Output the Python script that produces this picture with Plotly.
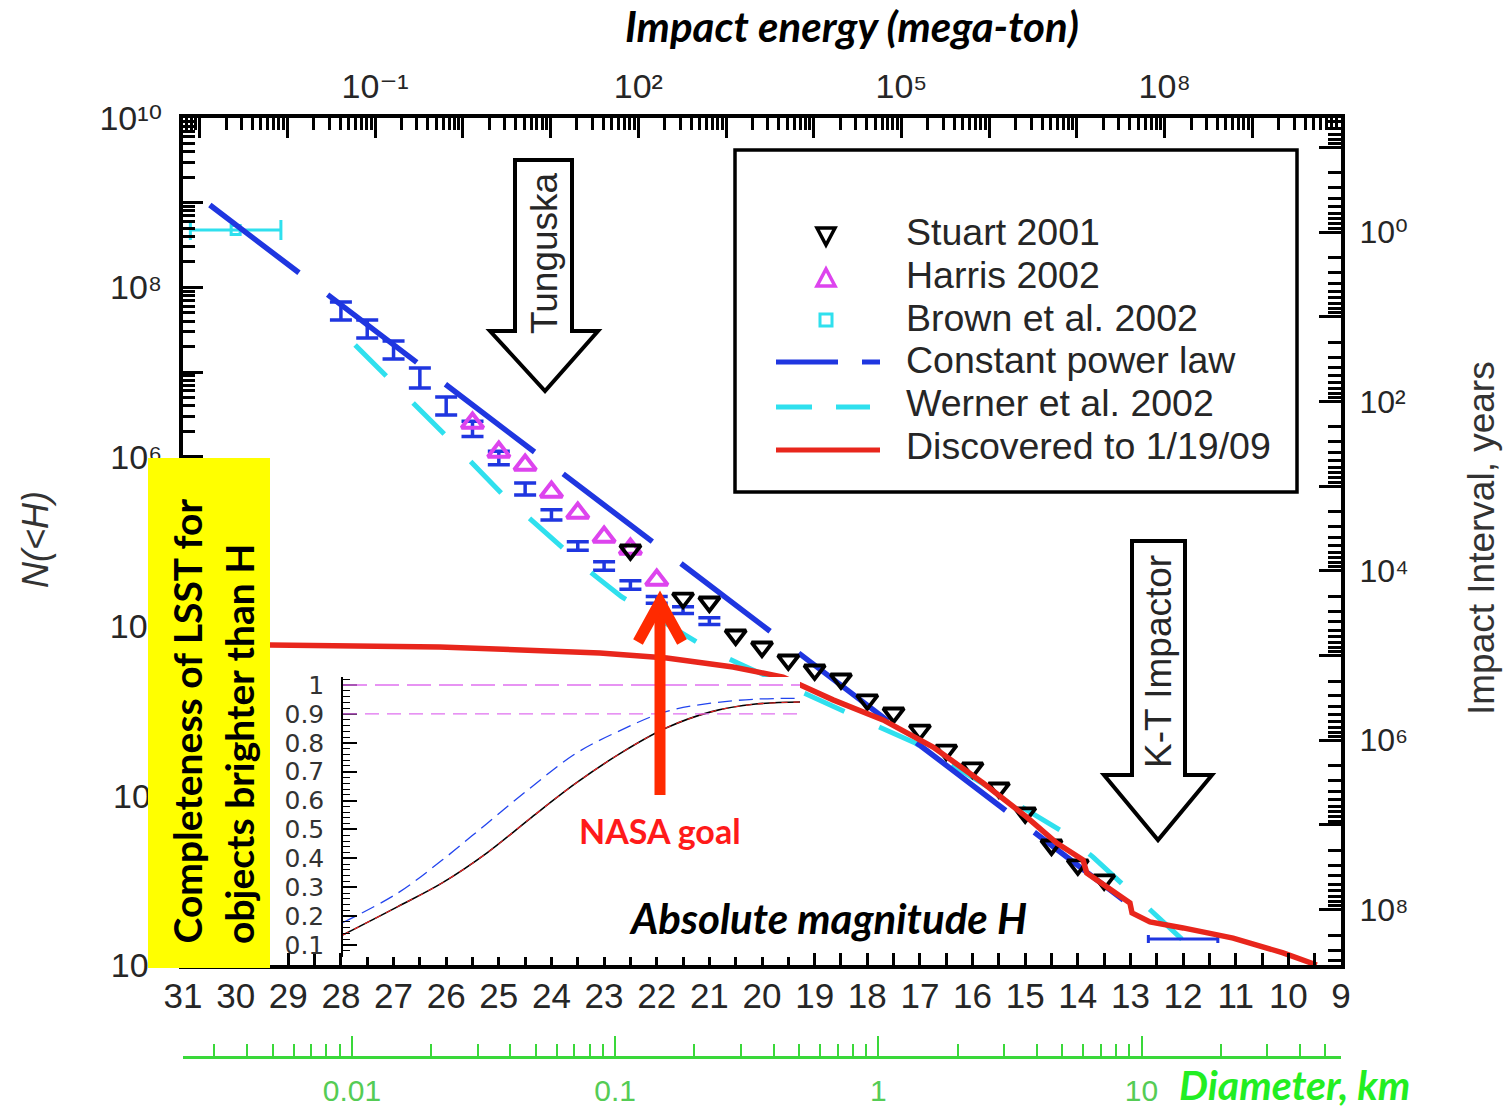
import math
import plotly.graph_objects as go

# ---------------- data ----------------
# Stuart 2001 (open inverted triangles)
stuart_H = [22.5, 21.5, 21, 20.5, 20, 19.5, 19, 18.5, 18, 17.5, 17, 16.5, 16, 15.5, 15, 14.5, 14, 13.5]
stuart_N = [7.94e4, 2.15e4, 1.93e4, 7.87e3, 5.68e3, 3.99e3, 3.04e3, 2.38e3, 1.35e3, 944, 594, 345,
            212, 123, 62.4, 26.1, 15.2, 10.1]
# Harris 2002 (open triangles)
harris_H = [25.5, 25, 24.5, 24, 23.5, 23, 22.5, 22]
harris_N = [2.51e6, 1.14e6, 8.0e5, 3.85e5, 2.17e5, 1.13e5, 8.15e4, 3.51e4]
# binned estimates with vertical error bars (blue)
bins_H = [28, 27.5, 27, 26.5, 26, 25.5, 25, 24.5, 24, 23.5, 23, 22.5, 22, 21.5, 21]
bins_N = [5.26e7, 3.23e7, 1.82e7, 8.51e6, 3.98e6, 2.13e6, 9.68e5, 4.17e5, 2.06e5, 8.85e4,
          5.14e4, 3.07e4, 2.04e4, 1.55e4, 1.15e4]
bins_err_dex = [0.106, 0.106, 0.106, 0.118, 0.106, 0.09, 0.08, 0.07, 0.06, 0.05, 0.05, 0.05,
                0.04, 0.04, 0.04]
# Brown et al. 2002 (bolides, horizontal error bar)
brown_H = [30.0]
brown_N = [4.76e8]
brown_H_err = [0.86]
# large-object estimate with horizontal error bar (blue)
big_H = [12.0]
big_N = [2.03]
big_H_err = [0.66]
# Constant power law (end points)
powerlaw_H = [30.49, 13.01]
powerlaw_N = [9.4e8, 5.1]
# Werner et al. 2002
werner_H = [27.73, 26.02, 24.92, 23.27, 22.67, 21.05, 20.46, 18.84, 18.20, 17.09, 14.34, 13.71, 12.63, 11.49]
werner_N = [2.09e7, 1.81e6, 3.54e5, 4.40e4, 2.23e4, 5.53e3, 3.68e3, 1.27e3, 847, 418, 39.3, 18.8, 4.46, 1.0]
# Discovered to 1/19/09
disc_H = [31.0, 29.35, 26.12, 23.08, 21.81, 20.55, 19.60, 18.65, 17.70, 16.75, 15.80, 14.97, 14.40,
          13.90, 13.83, 13.01, 12.97, 12.63, 12.00, 11.05, 10.10, 9.46]
disc_N = [6.0e3, 6.0e3, 5.69e3, 4.83e3, 4.22e3, 3.30e3, 2.51e3, 1.35e3, 782, 375, 141, 55.8, 27.5,
          17.4, 12.2, 5.40, 4.11, 3.22, 2.74, 2.08, 1.39, 1.0]
# Inset: completeness of LSST for objects brighter than H
inset_H = [27.95, 26.92, 26.07, 25.22, 24.37, 23.53, 22.68, 21.83, 20.98, 20.13, 19.29]
inset_lsst = [0.135, 0.232, 0.315, 0.419, 0.543, 0.661, 0.765, 0.851, 0.907, 0.934, 0.941]
inset_alt = [0.178, 0.279, 0.394, 0.521, 0.648, 0.764, 0.844, 0.908, 0.937, 0.951, 0.954]
inset_goals = [1.0, 0.9]

# axis ranges (H linear; others log10)
H_RANGE = [31, 9]
N_RANGE = [0, 10]
E_RANGE = [-3.19, 10.01]
T_RANGE = [8.654, -1.346]
D_RANGE = [-2.642, 1.758]
H_TICKS = list(range(9, 32))
N_LABEL_EXP = [0, 2, 4, 6, 8, 10]
E_LABEL_EXP = [-1, 2, 5, 8]
T_LABEL_EXP = [0, 2, 4, 6, 8]
D_LABELS = [0.01, 0.1, 1, 10]
INSET_TICKS = [0.1, 0.2, 0.3, 0.4, 0.5, 0.6, 0.7, 0.8, 0.9, 1.0]

legend_labels = ["Stuart 2001", "Harris 2002", "Brown et al. 2002", "Constant power law",
                 "Werner et al. 2002", "Discovered to 1/19/09"]

# ---------------- helpers ----------------
W, HT = 1504, 1111
def px(x):
    return x / W
def py(y):
    return 1 - y / HT

def decades(rng):
    lo, hi = min(rng), max(rng)
    return [k for k in range(math.floor(lo), math.ceil(hi) + 1) if lo - 1e-9 <= k <= hi + 1e-9]

def log_minor(rng):
    lo, hi = min(rng), max(rng)
    out = []
    for k in range(math.floor(lo) - 1, math.ceil(hi) + 1):
        for m in range(2, 10):
            v = m * 10.0 ** k
            if lo <= math.log10(v) <= hi:
                out.append(v)
    return out

SUP = str.maketrans("-0123456789", "⁻⁰¹²³⁴⁵⁶⁷⁸⁹")
def pow_label(k):
    return "10" + str(k).translate(SUP)

SANS = "Liberation Sans, Arial, DejaVu Sans, sans-serif"
NARROW = "Liberation Sans Narrow, Arial Narrow, Liberation Sans, Arial, sans-serif"
CAL = "Lato, Carlito, Open Sans, sans-serif"
TXT = "#262626"

BLUE = "#1f36e0"
CYAN = "#2fe0ee"
RED = "#e8261c"
MAG = "#dd44ee"
GREEN = "#3ad83a"

fig = go.Figure()

# ---------------- main traces ----------------
fig.add_trace(go.Scatter(
    x=bins_H, y=bins_N, mode="markers", marker=dict(size=0.1, color=BLUE),
    error_y=dict(type="data", symmetric=False,
                 array=[n * (10 ** e - 1) for n, e in zip(bins_N, bins_err_dex)],
                 arrayminus=[n * (1 - 10 ** -e) for n, e in zip(bins_N, bins_err_dex)],
                 color=BLUE, thickness=3.5, width=11),
    hoverinfo="skip"))
fig.add_trace(go.Scatter(
    x=brown_H, y=brown_N, mode="markers",
    marker=dict(symbol="square-open", size=9, color=CYAN, line=dict(width=3)),
    error_x=dict(type="data", array=brown_H_err, color=CYAN, thickness=3, width=10),
    hoverinfo="skip"))
fig.add_trace(go.Scatter(
    x=werner_H, y=werner_N, mode="lines",
    line=dict(color=CYAN, width=5, dash="44px,38px"), hoverinfo="skip"))
fig.add_trace(go.Scatter(
    x=powerlaw_H, y=powerlaw_N, mode="lines",
    line=dict(color=BLUE, width=5.5, dash="112px,36px"), hoverinfo="skip"))
fig.add_trace(go.Scatter(
    x=big_H, y=big_N, mode="markers", marker=dict(size=0.1, color=BLUE),
    error_x=dict(type="data", array=big_H_err, color=BLUE, thickness=3, width=4),
    hoverinfo="skip"))
fig.add_trace(go.Scatter(
    x=harris_H, y=harris_N, mode="markers",
    marker=dict(symbol="triangle-up-open", size=19, color=MAG, line=dict(width=4)),
    hoverinfo="skip"))
fig.add_trace(go.Scatter(
    x=stuart_H, y=stuart_N, mode="markers",
    marker=dict(symbol="triangle-down-open", size=18, color="black", line=dict(width=3.8)),
    hoverinfo="skip"))
fig.add_trace(go.Scatter(
    x=disc_H, y=disc_N, mode="lines", line=dict(color=RED, width=5.5), hoverinfo="skip"))

# invisible anchors so the secondary axes are drawn
for xa, ya, xv in [("x2", "y", 1.0), ("x3", "y", 1.0), ("x", "y2", 20.0),
                   ("x5", "y", 1.0), ("x", "y4", 20.0), ("x", "y5", 20.0)]:
    fig.add_trace(go.Scatter(x=[xv], y=[1.0], xaxis=xa, yaxis=ya, mode="markers",
                             marker=dict(opacity=0), hoverinfo="skip"))

# ---------------- inset traces ----------------
fig.add_trace(go.Scatter(x=inset_H, y=inset_alt, xaxis="x4", yaxis="y3", mode="lines",
                         line=dict(color="#2244ee", width=1.3, dash="14px,7px", shape="spline"),
                         hoverinfo="skip"))
fig.add_trace(go.Scatter(x=inset_H, y=inset_lsst, xaxis="x4", yaxis="y3", mode="lines",
                         line=dict(color="black", width=1.6, shape="spline"), hoverinfo="skip"))
fig.add_trace(go.Scatter(x=inset_H, y=inset_lsst, xaxis="x4", yaxis="y3", mode="lines",
                         line=dict(color="#ee2222", width=1.1, dash="6px,6px", shape="spline"),
                         hoverinfo="skip"))

# ---------------- axes ----------------
dom_x = [px(183), px(1341)]
dom_y = [py(965), py(118)]

n_dec = decades(N_RANGE)
e_dec = decades(E_RANGE)
t_dec = decades(T_RANGE)

common = dict(showgrid=False, zeroline=False, automargin=False)

def tick_only(rng, side, decs, labelled, overlay, ticklen, **kw):
    # extra axis drawing only the long, unlabelled decade ticks
    return dict(overlaying=overlay, side=side, type="log", range=rng, showline=False,
                ticks="inside", ticklen=ticklen, tickwidth=3, tickcolor="black",
                tickmode="array", tickvals=[10.0 ** k for k in decs if k not in labelled],
                showticklabels=False, **common, **kw)

fig.update_layout(
    template="none",
    width=W, height=HT, margin=dict(l=0, r=0, t=0, b=0, autoexpand=False),
    paper_bgcolor="white", plot_bgcolor="white", showlegend=False, hovermode=False,
    xaxis=dict(domain=dom_x, range=H_RANGE, anchor="y", side="bottom",
               showline=True, linecolor="black", linewidth=4, **common,
               ticks="inside", ticklen=12, tickwidth=2.5, tickcolor="black",
               tickmode="array", tickvals=H_TICKS, ticktext=[str(v) for v in H_TICKS],
               minor=dict(tickmode="array", tickvals=[v + 0.5 for v in H_TICKS[:-1]],
                          ticks="inside", ticklen=12, tickwidth=2.5, tickcolor="black"),
               tickfont=dict(family=NARROW, size=35, color=TXT), ticklabelstandoff=-3),
    xaxis2=dict(domain=dom_x, overlaying="x", anchor="y", side="top", type="log", range=E_RANGE,
                showline=True, linecolor="black", linewidth=4, **common,
                ticks="inside", ticklen=20, tickwidth=3, tickcolor="black",
                tickmode="array", tickvals=[10.0 ** k for k in E_LABEL_EXP],
                ticktext=[pow_label(k) for k in E_LABEL_EXP],
                minor=dict(tickmode="array", tickvals=log_minor(E_RANGE), ticks="inside",
                           ticklen=12, tickwidth=2.5, tickcolor="black"),
                tickfont=dict(family=SANS, size=34, color=TXT), ticklabelstandoff=2),
    xaxis5=dict(domain=dom_x, anchor="y",
                **tick_only(E_RANGE, "top", e_dec, E_LABEL_EXP, "x", 20)),
    xaxis3=dict(domain=dom_x, overlaying="x", anchor="free", position=py(1057), side="bottom",
                type="log", range=D_RANGE,
                showline=True, linecolor=GREEN, linewidth=3, **common,
                ticks="inside", ticklen=20, tickwidth=2, tickcolor=GREEN,
                tickmode="array", tickvals=D_LABELS, ticktext=[("%g" % v) for v in D_LABELS],
                minor=dict(tickmode="array", tickvals=log_minor(D_RANGE), ticks="inside",
                           ticklen=12, tickwidth=2, tickcolor=GREEN),
                tickfont=dict(family=SANS, size=30, color="#55cc55"), ticklabelstandoff=6),
    yaxis=dict(domain=dom_y, range=N_RANGE, type="log", anchor="x", side="left",
               showline=True, linecolor="black", linewidth=4, **common,
               ticks="inside", ticklen=20, tickwidth=3, tickcolor="black",
               tickmode="array", tickvals=[10.0 ** k for k in N_LABEL_EXP],
               ticktext=[pow_label(k) for k in N_LABEL_EXP],
               minor=dict(tickmode="array", tickvals=log_minor(N_RANGE), ticks="inside",
                          ticklen=12, tickwidth=2.5, tickcolor="black"),
               tickfont=dict(family=SANS, size=34, color=TXT), ticklabelstandoff=10),
    yaxis4=dict(domain=dom_y, anchor="x",
                **tick_only(N_RANGE, "left", n_dec, N_LABEL_EXP, "y", 20)),
    yaxis2=dict(domain=dom_y, overlaying="y", anchor="x", side="right", type="log", range=T_RANGE,
                showline=True, linecolor="black", linewidth=4, **common,
                ticks="inside", ticklen=22, tickwidth=3, tickcolor="black",
                tickmode="array", tickvals=[10.0 ** k for k in T_LABEL_EXP],
                ticktext=[pow_label(k) for k in T_LABEL_EXP],
                minor=dict(tickmode="array", tickvals=log_minor(T_RANGE), ticks="inside",
                           ticklen=13, tickwidth=2.5, tickcolor="black"),
                tickfont=dict(family=SANS, size=32, color=TXT), ticklabelstandoff=8),
    yaxis5=dict(domain=dom_y, anchor="x",
                **tick_only(T_RANGE, "right", t_dec, T_LABEL_EXP, "y", 22)),
    xaxis4=dict(domain=[px(343), px(800)], anchor="y3", range=[inset_H[0], inset_H[-1]],
                visible=False, **common),
    yaxis3=dict(domain=[py(957), py(677)], anchor="x4", range=[0.0585, 1.0277],
                showline=True, linecolor="black", linewidth=1.5, **common,
                ticks="inside", ticklen=14, tickwidth=1.5, tickcolor="black",
                tickmode="array", tickvals=INSET_TICKS, ticktext=[("%g" % v) for v in INSET_TICKS],
                minor=dict(tickmode="linear", tick0=0, dtick=0.02, ticks="inside", ticklen=7,
                           tickwidth=1.2, tickcolor="black"),
                tickfont=dict(family="DejaVu Sans, sans-serif", size=25, color="#333"),
                ticklabelstandoff=12),
)

# ---------------- shapes ----------------
def path(points, close=True):
    s = "M " + " L ".join("%.5f,%.5f" % (px(x), py(y)) for x, y in points)
    return s + (" Z" if close else "")

shapes = []
# inset goal lines
for g, d in zip(inset_goals, ["24px,8px", "14px,8px"]):
    shapes.append(dict(type="line", xref="x4 domain", yref="y3", x0=0, x1=1, y0=g, y1=g,
                       line=dict(color="#e070f0", width=1.3, dash=d), layer="above"))
# Tunguska arrow
shapes.append(dict(type="path", xref="paper", yref="paper",
                   path=path([(515, 160), (572, 160), (572, 331), (598, 331), (545, 391),
                              (490, 331), (515, 331)]),
                   fillcolor="white", line=dict(color="black", width=4), layer="above"))
# K-T arrow
shapes.append(dict(type="path", xref="paper", yref="paper",
                   path=path([(1132, 541), (1185, 541), (1185, 775), (1212, 775), (1158, 840),
                              (1104, 775), (1132, 775)]),
                   fillcolor="white", line=dict(color="black", width=4), layer="above"))
# legend box
shapes.append(dict(type="rect", xref="paper", yref="paper", x0=px(735), x1=px(1297),
                   y0=py(492), y1=py(150), fillcolor="white",
                   line=dict(color="black", width=3.5), layer="above"))
# legend glyphs
shapes.append(dict(type="path", xref="paper", yref="paper",
                   path=path([(817, 228), (835, 228), (826, 245)]), fillcolor="white",
                   line=dict(color="black", width=3.5), layer="above"))
shapes.append(dict(type="path", xref="paper", yref="paper",
                   path=path([(817, 286), (835, 286), (826, 269)]), fillcolor="white",
                   line=dict(color=MAG, width=3.5), layer="above"))
shapes.append(dict(type="rect", xref="paper", yref="paper", x0=px(820), x1=px(832),
                   y0=py(326), y1=py(314), fillcolor="white",
                   line=dict(color=CYAN, width=3), layer="above"))
for (x0, x1, y, c) in [(776, 838, 362, BLUE), (862, 880, 362, BLUE),
                       (776, 812, 407, CYAN), (836, 870, 407, CYAN),
                       (776, 880, 450, RED)]:
    shapes.append(dict(type="line", xref="paper", yref="paper", x0=px(x0), x1=px(x1),
                       y0=py(y), y1=py(y), line=dict(color=c, width=5), layer="above"))
# NASA goal arrow
ARROW_RED = "#ff2a00"
shapes.append(dict(type="line", xref="paper", yref="paper", x0=px(660), x1=px(660),
                   y0=py(795), y1=py(602), line=dict(color=ARROW_RED, width=11), layer="above"))
shapes.append(dict(type="path", xref="paper", yref="paper",
                   path=path([(638, 642), (660, 602), (682, 642)], close=False),
                   line=dict(color=ARROW_RED, width=11), layer="above"))
# yellow label box
shapes.append(dict(type="rect", xref="paper", yref="paper", x0=px(148), x1=px(270),
                   y0=py(968), y1=py(458), fillcolor="#ffff00", line=dict(width=0),
                   layer="above"))
fig.update_layout(shapes=shapes)

# ---------------- annotations ----------------
ann = []
def text(t, x, y, size, family=SANS, color=TXT, angle=0, xanchor="center", yanchor="middle"):
    ann.append(dict(text=t, x=px(x), y=py(y), xref="paper", yref="paper", showarrow=False,
                    textangle=angle, xanchor=xanchor, yanchor=yanchor,
                    font=dict(family=family, size=size, color=color)))

text("<b><i>Impact energy (mega-ton)</i></b>", 852, 26, 42, family=CAL, color="black")
text("<i>N(&lt;H)</i>", 35, 540, 36, angle=-90, color="#333")
text("Impact Interval, years", 1481, 538, 37, angle=-90, color="#333")
text("Tunguska", 545, 253, 37, angle=-90)
text("K-T Impactor", 1158, 662, 37, angle=-90)
for lab, y in zip(legend_labels, [232, 275, 318, 360, 403, 446]):
    text(lab, 904, y, 37.5, xanchor="left")
text("<b>NASA goal</b>", 660, 830, 34, family=CAL, color="#ff1a1a")
text("<b><i>Absolute magnitude H</i></b>", 828, 918, 42, family=CAL, color="black")
text("<b><i>Diameter, km</i></b>", 1177, 1084, 41, family=CAL, color="#22ee22", xanchor="left")
text("<b>Completeness of LSST for</b>", 186, 946, 39, family=CAL, color="black", angle=-90,
     yanchor="bottom")
text("<b>objects brighter than H</b>", 239, 946, 39, family=CAL, color="black", angle=-90,
     yanchor="bottom")
fig.update_layout(annotations=ann)

fig.write_html("out.html", config={"displayModeBar": False},
               post_script="document.body.style.margin='0px';document.body.style.overflow='hidden';")
